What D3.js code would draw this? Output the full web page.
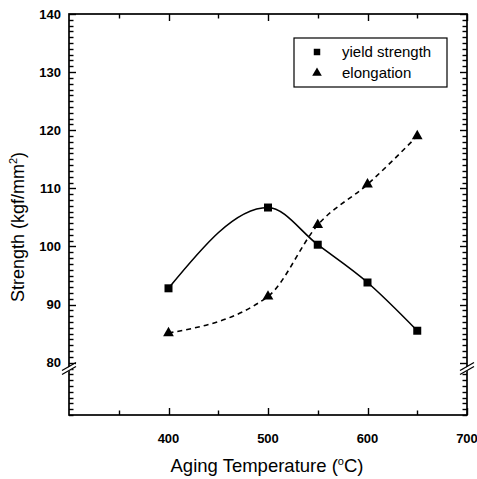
<!DOCTYPE html>
<html>
<head>
<meta charset="utf-8">
<script src="https://cdn.jsdelivr.net/npm/d3@7"></script>
<style>
  body { margin: 0; background: #fff; }
  text { font-family: "Liberation Sans", Arial, sans-serif; fill: #000; }
</style>
</head>
<body>
<div id="chart"></div>
<script>
// values
var temps = [400, 500, 550, 600, 650];
var yieldStrength = [92.8, 106.7, 100.3, 93.8, 85.5];
var elongation = [85.1, 91.4, 103.7, 110.7, 119.0];
var xTicks = [400, 500, 600, 700];
var xMinor = [350, 450, 550, 650];
var yTicks = [80, 90, 100, 110, 120, 130, 140];
var legendNames = ["yield strength", "elongation"];

var W = 477, H = 479;
var margin = {top: 14, right: 10, bottom: 64, left: 69};
var width = W - margin.left - margin.right,
    height = H - margin.top - margin.bottom;

var svg = d3.select("#chart").append("svg")
  .attr("width", W).attr("height", H);
var g = svg.append("g")
  .attr("transform", "translate(" + margin.left + "," + margin.top + ")");

var x = d3.scaleLinear().domain([300, 700]).range([0, width]);
var y = d3.scaleLinear().domain([71, 140]).range([height, 0]);

// minor y ticks every unit
var yMinor = d3.range(71, 141).filter(function(v) { return v % 10 != 0; });

// frame
g.append("rect").attr("width", width).attr("height", height)
  .attr("fill", "none").attr("stroke", "#000").attr("stroke-width", 1.7);

// tick marks, drawn inward on all four sides
function yTickMarks(vals, len, x0, dir) {
  g.append("g").selectAll("line").data(vals).enter().append("line")
    .attr("x1", x0).attr("x2", x0 + dir * len)
    .attr("y1", function(d) { return Math.round(y(d)) + 0.5; })
    .attr("y2", function(d) { return Math.round(y(d)) + 0.5; })
    .attr("stroke", "#000").attr("stroke-width", 1.4);
}
function xTickMarks(vals, len, y0, dir) {
  g.append("g").selectAll("line").data(vals).enter().append("line")
    .attr("y1", y0).attr("y2", y0 + dir * len)
    .attr("x1", function(d) { return Math.round(x(d)) + 0.5; })
    .attr("x2", function(d) { return Math.round(x(d)) + 0.5; })
    .attr("stroke", "#000").attr("stroke-width", 1.4);
}
yTickMarks(yTicks, 7, 0, 1);
yTickMarks(yMinor, 4.5, 0, 1);
yTickMarks(yTicks, 7, width, -1);
yTickMarks(yMinor, 4.5, width, -1);
xTickMarks(xTicks, 7, height, -1);
xTickMarks(xMinor, 4.5, height, -1);
xTickMarks(xTicks, 7, 0, 1);
xTickMarks(xMinor, 4.5, 0, 1);

// tick labels
g.append("g").selectAll("text").data(yTicks).enter().append("text")
  .attr("x", -8).attr("y", function(d) { return y(d); }).attr("dy", "0.35em")
  .attr("text-anchor", "end").style("font-size", "13px").style("font-weight", "bold")
  .text(function(d) { return d; });
g.append("g").selectAll("text").data(xTicks).enter().append("text")
  .attr("x", function(d) { return x(d); }).attr("y", height + 28)
  .attr("text-anchor", "middle").style("font-size", "13px").style("font-weight", "bold")
  .text(function(d) { return d; });

// axis breaks just under 80
[0, width].forEach(function(ax) {
  var by = y(79);
  g.append("polygon")
    .attr("points", [[ax - 6, by + 2], [ax + 6, by - 5], [ax + 6, by - 1], [ax - 6, by + 6]].join(" "))
    .attr("fill", "#fff");
  [0, 4].forEach(function(o) {
    g.append("line")
      .attr("x1", ax - 7).attr("y1", by + 2 + o)
      .attr("x2", ax + 7).attr("y2", by - 6 + o)
      .attr("stroke", "#000").attr("stroke-width", 1.3);
  });
});

// lines
var ysData = temps.map(function(t, i) { return [t, yieldStrength[i]]; });
var elData = temps.map(function(t, i) { return [t, elongation[i]]; });
var curveLine = d3.line()
  .x(function(d) { return x(d[0]); })
  .y(function(d) { return y(d[1]); })
  .curve(d3.curveMonotoneX);

g.append("path").datum(ysData).attr("d", curveLine)
  .attr("fill", "none").attr("stroke", "#000").attr("stroke-width", 1.6);
g.append("path").datum(elData).attr("d", curveLine)
  .attr("fill", "none").attr("stroke", "#000").attr("stroke-width", 1.6)
  .attr("stroke-dasharray", "5,4");

var square = d3.symbol().type(d3.symbolSquare).size(64);
var triangle = d3.symbol().type(d3.symbolTriangle).size(50);

g.append("g").selectAll("path").data(ysData).enter().append("path")
  .attr("d", square)
  .attr("transform", function(d) { return "translate(" + x(d[0]) + "," + y(d[1]) + ")"; });
g.append("g").selectAll("path").data(elData).enter().append("path")
  .attr("d", triangle)
  .attr("transform", function(d) { return "translate(" + x(d[0]) + "," + y(d[1]) + ")"; });

// legend
var leg = svg.append("g").attr("transform", "translate(294,38)");
leg.append("rect").attr("width", 153).attr("height", 49)
  .attr("fill", "#fff").attr("stroke", "#000").attr("stroke-width", 1.2);
legendNames.forEach(function(name, i) {
  leg.append("path")
    .attr("d", i == 0 ? d3.symbol().type(d3.symbolSquare).size(42)() : d3.symbol().type(d3.symbolTriangle).size(40)())
    .attr("transform", "translate(23," + (14 + i * 21) + ")");
  leg.append("text").attr("x", 48).attr("y", 14 + i * 21).attr("dy", "0.35em")
    .style("font-size", "15px").text(name);
});

// axis titles
var xl = svg.append("text").attr("x", 267).attr("y", 472)
  .attr("text-anchor", "middle").style("font-size", "18.5px");
xl.append("tspan").text("Aging Temperature (");
xl.append("tspan").attr("dy", "-7").style("font-size", "11px").text("o");
xl.append("tspan").attr("dy", "7").text("C)");

var yl = svg.append("text")
  .attr("transform", "translate(24,227) rotate(-90)")
  .attr("text-anchor", "middle").style("font-size", "18px");
yl.append("tspan").text("Strength (kgf/mm");
yl.append("tspan").attr("dy", "-7").style("font-size", "11px").text("2");
yl.append("tspan").attr("dy", "7").text(")");
</script>
</body>
</html>
